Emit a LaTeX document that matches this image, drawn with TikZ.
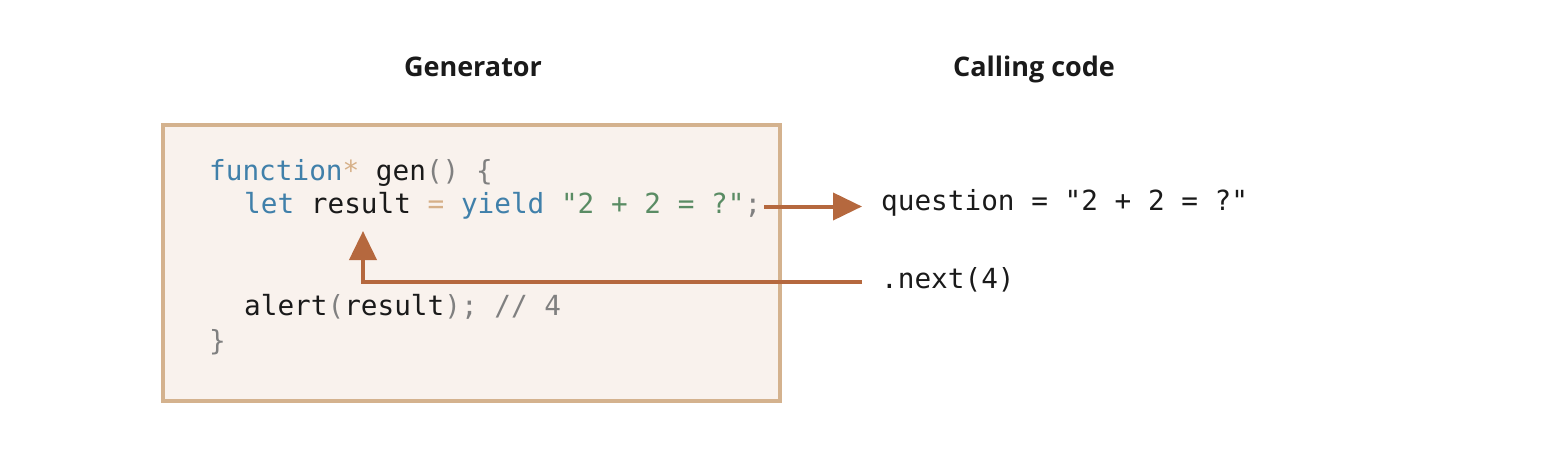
\documentclass[tikz,border=0pt]{standalone}
\usepackage{fontspec}
\setmonofont{DejaVu Sans Mono}
\newfontfamily\titlefont{Open Sans}
\usepackage{xcolor}
\usetikzlibrary{arrows.meta}
\definecolor{boxline}{RGB}{212,178,142}
\definecolor{boxfill}{RGB}{249,242,237}
\definecolor{flowc}{RGB}{181,104,62}
\definecolor{kwc}{RGB}{64,128,170}
\definecolor{strc}{RGB}{90,140,100}
\definecolor{punctc}{RGB}{128,128,128}
\definecolor{starc}{RGB}{214,176,136}
\definecolor{ink}{RGB}{26,26,26}
\newcommand{\codefont}{\ttfamily\fontsize{27.7}{33}\selectfont}
\newcommand{\kw}[1]{\textcolor{kwc}{#1}}
\newcommand{\pu}[1]{\textcolor{punctc}{#1}}

\begin{document}
\begin{tikzpicture}[x=1pt,y=-1pt,
    code/.style={anchor=base west,inner sep=0pt,text height=20pt,text depth=7pt,font=\codefont,text=ink},
    title/.style={anchor=base,inner sep=0pt,font=\titlefont\bfseries\fontsize{27}{32}\selectfont,text=ink},
    flow/.style={draw=flowc,line width=4pt,-{Triangle[length=29pt,width=27pt]}}]
      \useasboundingbox (0,0) rectangle (1544,460);
      \coordinate(T1) at (473,77);
      \coordinate(T2) at (1034,77);
      \coordinate(B) at (161,123);
      \coordinate(L1) at (209,180);
      \coordinate(L2) at (244,213);
      \coordinate(L3) at (244,315);
      \coordinate(L4) at (209,350);
      \coordinate(Q) at (881,210);
      \coordinate(N) at (881,288);
      \coordinate(res) at (363,231);
      \node[title](gentitle) at (T1) {Generator};
      \node[title](calltitle) at (T2) {Calling code};
      \node[draw=boxline,fill=boxfill,line width=4pt,inner sep=0pt,
        minimum width=617pt,minimum height=276pt,anchor=north west](gen) at (B) {};
      \node[code](line1) at (L1) {\kw{function}\textcolor{starc}{*} gen\pu{()} \pu{\{}};
      \node[code](line2) at (L2) {\kw{let} result \textcolor{starc}{=} \kw{yield} \textcolor{strc}{"2 + 2 = ?"}\pu{;}};
      \node[code](line3) at (L3) {alert\pu{(}result\pu{);} \pu{// 4}};
      \node[code](line4) at (L4) {\pu{\}}};
      \node[code](question) at (Q) {question = "2 + 2 = ?"};
      \node[code](next) at (N) {.next(4)};
      \draw[flow,shorten >=19pt](line2.east)++(3,0)--(line2.east -| question.west);
      \draw[flow]([xshift=-19pt]next.west)-|(res);
    \end{tikzpicture}
\end{document}
